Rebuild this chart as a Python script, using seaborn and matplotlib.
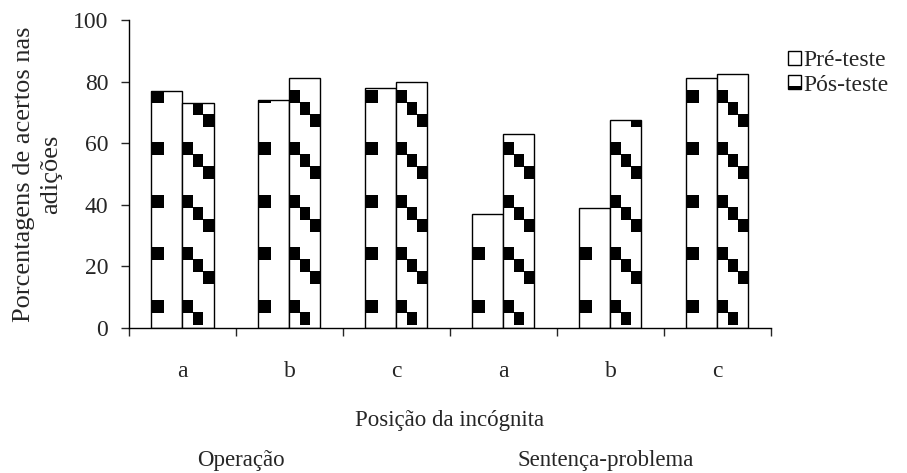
# Barras agrupadas: pré-teste e pós-teste por posição da incógnita

import seaborn as sns
import pandas as pd
import matplotlib.pyplot as plt
from matplotlib.patches import Rectangle
from matplotlib.legend_handler import HandlerBase

grupos = ["Op-a", "Op-b", "Op-c", "SP-a", "SP-b", "SP-c"]
rotulos = ["a", "b", "c", "a", "b", "c"]
pre_teste = [77, 74, 78, 37, 39, 81]
pos_teste = [73, 81, 80, 63, 67.5, 82.5]

dataframe = pd.DataFrame({
    "grupo": grupos * 2,
    "teste": ["Pré-teste"] * 6 + ["Pós-teste"] * 6,
    "valor": pre_teste + pos_teste,
})

sns.set_style("ticks")
plt.rcParams["font.family"] = ["Liberation Serif", "DejaVu Serif"]
fs = 16.5
plt.rcParams["font.size"] = fs

fig = plt.figure(figsize=(9.07, 4.73), dpi=100)
ax = fig.add_axes([0.1422, 0.3072, 0.7078, 0.6505])

sns.barplot(data=dataframe, x="grupo", y="valor", hue="teste",
            palette=["white", "white"], edgecolor="black", linewidth=1,
            width=0.58, gap=0, legend=False, ax=ax)

# padrao de quadrados pretos (estilo Excel)
periodo = 17.05
base = 4.9
alt = 4.2
passo = 3.9

for barra in ax.containers[0]:
    x0 = barra.get_x()
    w = barra.get_width()
    for k in range(7):
        y0 = base + k * periodo
        q = Rectangle((x0, y0), w * 0.42, alt, facecolor="black", edgecolor="none")
        ax.add_patch(q)
        q.set_clip_path(barra)

for barra in ax.containers[1]:
    x0 = barra.get_x()
    w = barra.get_width()
    for k in range(8):
        for j in range(3):
            y0 = base + k * periodo - j * passo
            if y0 < 0:
                continue
            q = Rectangle((x0 + j * w / 3, y0), w / 3, alt, facecolor="black", edgecolor="none")
            ax.add_patch(q)
            q.set_clip_path(barra)

ax.set_xlim(-0.5, 5.5)
ax.set_ylim(0, 100)
ax.set_yticks([0, 20, 40, 60, 80, 100])
ax.tick_params(axis="y", direction="out", length=6, width=1, labelsize=17, pad=9)

ax.set_xticks([x - 0.5 for x in range(7)])
ax.set_xticklabels([])
ax.set_xticks(range(6), minor=True)
ax.set_xticklabels(rotulos, minor=True)
ax.tick_params(axis="x", which="major", direction="out", length=6, width=1)
ax.tick_params(axis="x", which="minor", length=0, labelsize=17, pad=24)

sns.despine(ax=ax)
for lado in ["left", "bottom"]:
    ax.spines[lado].set_linewidth(1)
    ax.spines[lado].set_color("black")

ax.set_xlabel("Posição da incógnita", fontsize=fs, labelpad=20)
ax.set_ylabel("Porcentagens de acertos nas\nadições", fontsize=19, labelpad=8,
              linespacing=1.3)

fig.text(241 / 907, 1 - 460 / 473, "Operação", ha="center", va="center", fontsize=fs)
fig.text(606 / 907, 1 - 460 / 473, "Sentença-problema", ha="center", va="center", fontsize=fs)


class HandlerPos(HandlerBase):
    def create_artists(self, legend, orig_handle, xdescent, ydescent, width, height, fontsize, trans):
        caixa = Rectangle((-xdescent, -ydescent), width, height, facecolor="white",
                          edgecolor="black", lw=1, transform=trans)
        faixa = Rectangle((-xdescent, -ydescent), width, height * 0.25, facecolor="black",
                          edgecolor="none", transform=trans)
        return [caixa, faixa]


class HandlerPre(HandlerBase):
    def create_artists(self, legend, orig_handle, xdescent, ydescent, width, height, fontsize, trans):
        caixa = Rectangle((-xdescent, -ydescent), width, height, facecolor="white",
                          edgecolor="black", lw=1, transform=trans)
        return [caixa]


h_pre = Rectangle((0, 0), 1, 1)
h_pos = Rectangle((0, 0), 1, 1)
fig.legend([h_pre, h_pos], ["Pré-teste", "Pós-teste"],
           handler_map={h_pre: HandlerPre(), h_pos: HandlerPos()},
           loc="upper left", bbox_to_anchor=(788 / 907, 1 - 50 / 473),
           frameon=False, fontsize=17, handlelength=0.55, handleheight=0.55,
           handletextpad=0.1, labelspacing=0.15, borderpad=0, borderaxespad=0)

plt.savefig("out.png", dpi=100)
